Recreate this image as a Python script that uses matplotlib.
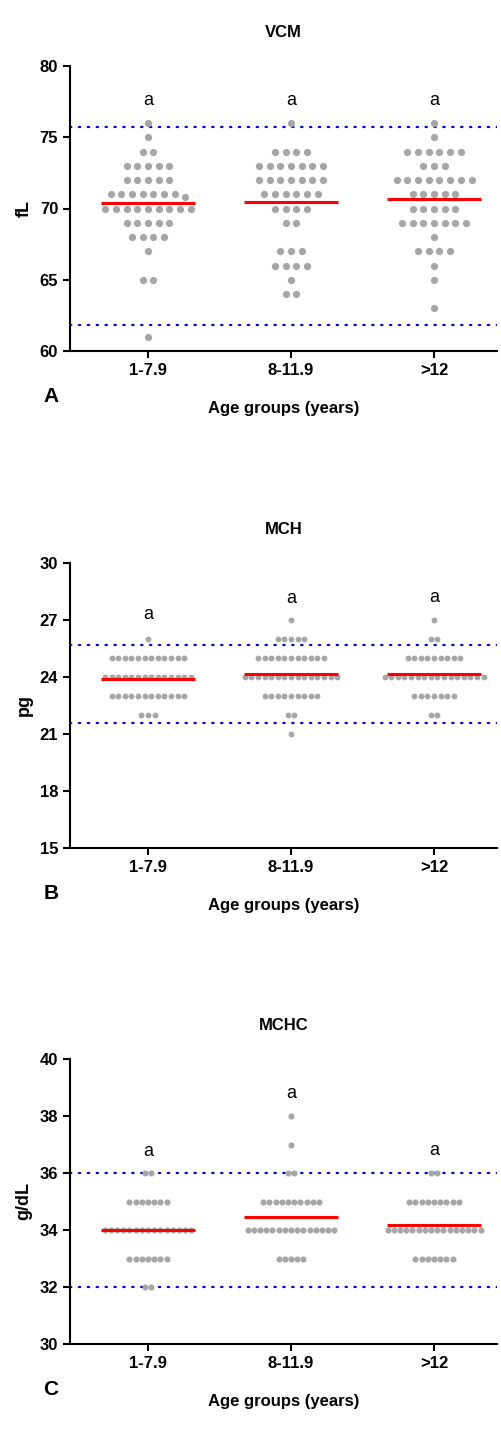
import numpy as np
import matplotlib
matplotlib.use("Agg")
import matplotlib.pyplot as plt

plt.rcParams['font.family'] = ['Liberation Sans', 'DejaVu Sans']

groups = ["1-7.9", "8-11.9", ">12"]

# VCM (fL): level -> count per age group
vcm_levels = [76, 75, 74, 73, 72, 71, 70.8, 70, 69, 68, 67, 66, 65, 64, 63, 61]
vcm_counts = [
    [1, 1, 2, 5, 5, 7, 1, 9, 5, 4, 1, 0, 2, 0, 0, 1],
    [1, 0, 4, 7, 7, 6, 0, 4, 2, 0, 3, 4, 1, 2, 0, 0],
    [1, 1, 6, 3, 8, 5, 0, 5, 7, 1, 4, 1, 1, 0, 1, 0],
]
vcm_ref = [75.7, 61.8]
vcm_letter_y = [77.6, 77.6, 77.6]

# MCH (pg)
mch_levels = [27, 26, 25, 24, 23, 22, 21]
mch_counts = [
    [0, 1, 12, 14, 12, 3, 0],
    [1, 5, 11, 15, 9, 2, 1],
    [1, 2, 9, 16, 7, 2, 0],
]
mch_ref = [25.7, 21.6]
mch_letter_y = [27.3, 28.15, 28.2]

# MCHC (g/dL)
mchc_levels = [38, 37, 36, 35, 34, 33, 32]
mchc_counts = [
    [0, 0, 2, 7, 15, 7, 2],
    [1, 1, 2, 10, 15, 5, 0],
    [0, 0, 2, 9, 16, 7, 0],
]
mchc_ref = [36.0, 32.0]
mchc_letter_y = [36.75, 38.8, 36.8]

panels = [
    dict(title="VCM", ylabel="fL", letter="A", levels=vcm_levels, counts=vcm_counts,
         ref=vcm_ref, ay=vcm_letter_y, ylim=(60, 80), yticks=[60, 65, 70, 75, 80],
         top=66, sp=10.7, ms=5.2),
    dict(title="MCH", ylabel="pg", letter="B", levels=mch_levels, counts=mch_counts,
         ref=mch_ref, ay=mch_letter_y, ylim=(15, 30), yticks=[15, 18, 21, 24, 27, 30],
         top=563, sp=6.6, ms=4.2),
    dict(title="MCHC", ylabel="g/dL", letter="C", levels=mchc_levels, counts=mchc_counts,
         ref=mchc_ref, ay=mchc_letter_y, ylim=(30, 40), yticks=[30, 32, 34, 36, 38, 40],
         top=1059, sp=6.2, ms=4.4),
]

W, H = 502, 1439
fig = plt.figure(figsize=(W / 100, H / 100), dpi=100)

ax_left, ax_right, ax_h = 70, 497, 285
xlo, xhi = -0.545, 2.44
px_per_unit = (ax_right - ax_left) / (xhi - xlo)

for p in panels:
    ax = fig.add_axes([ax_left / W, 1 - (p["top"] + ax_h) / H,
                       (ax_right - ax_left) / W, ax_h / H])
    for gi in range(3):
        xs, ys = [], []
        rows = {}
        for lv, c in zip(p["levels"], p["counts"][gi]):
            rows.setdefault(round(lv), []).extend([lv] * c)
        for key, vals in rows.items():
            n = len(vals)
            for i, v in enumerate(vals):
                xs.append(gi + (i - (n - 1) / 2) * p["sp"] / px_per_unit)
                ys.append(v)
        ax.plot(xs, ys, 'o', color='#a6a6a8', ms=p["ms"], mec='none', zorder=2)
        allv = [lv for lv, c in zip(p["levels"], p["counts"][gi]) for _ in range(c)]
        m = np.mean(allv)
        ax.plot([gi - 0.33, gi + 0.33], [m, m], color='#ff0000', lw=2.2, zorder=3,
                solid_capstyle='butt')
        ax.text(gi, p["ay"][gi], "a", ha='center', va='center', fontsize=13)
    for r in p["ref"]:
        ax.axhline(r, color='#0000dd', lw=1.6, ls=(0, (0.6, 3.4)),
                   dash_capstyle='round', zorder=1)
    ax.set_xlim(xlo, xhi)
    ax.set_ylim(*p["ylim"])
    ax.set_yticks(p["yticks"])
    ax.set_xticks([0, 1, 2])
    ax.set_xticklabels(groups)
    for s in ["top", "right"]:
        ax.spines[s].set_visible(False)
    for s in ["left", "bottom"]:
        ax.spines[s].set_linewidth(1.5)
    ax.tick_params(direction='out', length=5, width=1.5, labelsize=12)
    for lab in ax.get_xticklabels() + ax.get_yticklabels():
        lab.set_fontweight('bold')
    ax.set_title(p["title"], fontsize=12, fontweight='bold', pad=21)
    ax.set_ylabel(p["ylabel"], fontsize=13, fontweight='bold', labelpad=5)
    ax.set_xlabel("Age groups (years)", fontsize=12, fontweight='bold', labelpad=17)
    ax.text(-0.045, -0.16, p["letter"], transform=ax.transAxes, fontsize=15,
            fontweight='bold', ha='center', va='center')

fig.savefig("out.png", dpi=100)
